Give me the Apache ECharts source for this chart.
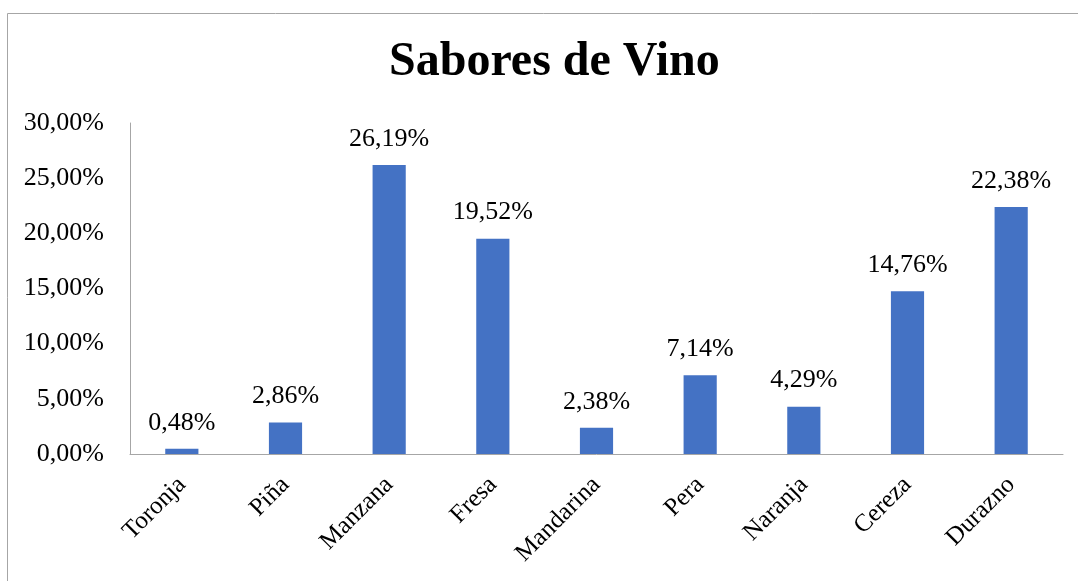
<!DOCTYPE html>
<html>
<head>
<meta charset="utf-8">
<script src="https://cdn.jsdelivr.net/npm/echarts@6/dist/echarts.min.js"></script>
<style>
html,body{margin:0;padding:0;background:#fff;}
#c{width:1078px;height:581px;}
</style>
</head>
<body>
<div id="c"></div>
<script>
const categories = ['Toronja','Piña','Manzana','Fresa','Mandarina','Pera','Naranja','Cereza','Durazno'];
const values = [0.48, 2.86, 26.19, 19.52, 2.38, 7.14, 4.29, 14.76, 22.38];
const yTicks = [0, 5, 10, 15, 20, 25, 30];

const fmt = v => Number(v).toFixed(2).replace('.', ',') + '%';
const font = '"Liberation Serif", "Times New Roman", serif';

const chart = echarts.init(document.getElementById('c'));
chart.setOption({
  animation: false,
  backgroundColor: '#fff',
  title: {
    text: 'Sabores de Vino',
    left: 384,
    top: 34,
    textStyle: { fontFamily: font, fontSize: 48, fontWeight: 'bold', color: '#000' }
  },
  graphic: [{
    type: 'rect',
    shape: { x: 7.5, y: 13.5, width: 1200, height: 700 },
    style: { fill: 'none', stroke: '#a6a6a6', lineWidth: 1 },
    silent: true
  }],
  grid: { left: 130, right: 15, top: 123, bottom: 127 },
  xAxis: {
    type: 'category',
    data: categories,
    axisLine: { lineStyle: { color: '#a6a6a6', width: 1 } },
    axisTick: { show: false },
    axisLabel: { rotate: 45, interval: 0, fontFamily: font, fontSize: 25, color: '#000', margin: 27 }
  },
  yAxis: {
    type: 'value',
    min: yTicks[0],
    max: yTicks[yTicks.length - 1],
    interval: 5,
    splitLine: { show: false },
    axisLine: { show: true, lineStyle: { color: '#a6a6a6', width: 1 } },
    axisTick: { show: false },
    axisLabel: { formatter: v => fmt(v), fontFamily: font, fontSize: 26, color: '#000', margin: 26 }
  },
  series: [{
    type: 'bar',
    data: values,
    barWidth: '32%',
    itemStyle: { color: '#4472C4' },
    label: {
      show: true,
      position: 'top',
      distance: 13,
      formatter: p => fmt(p.value),
      fontFamily: font,
      fontSize: 26,
      color: '#000'
    }
  }]
});
</script>
</body>
</html>
